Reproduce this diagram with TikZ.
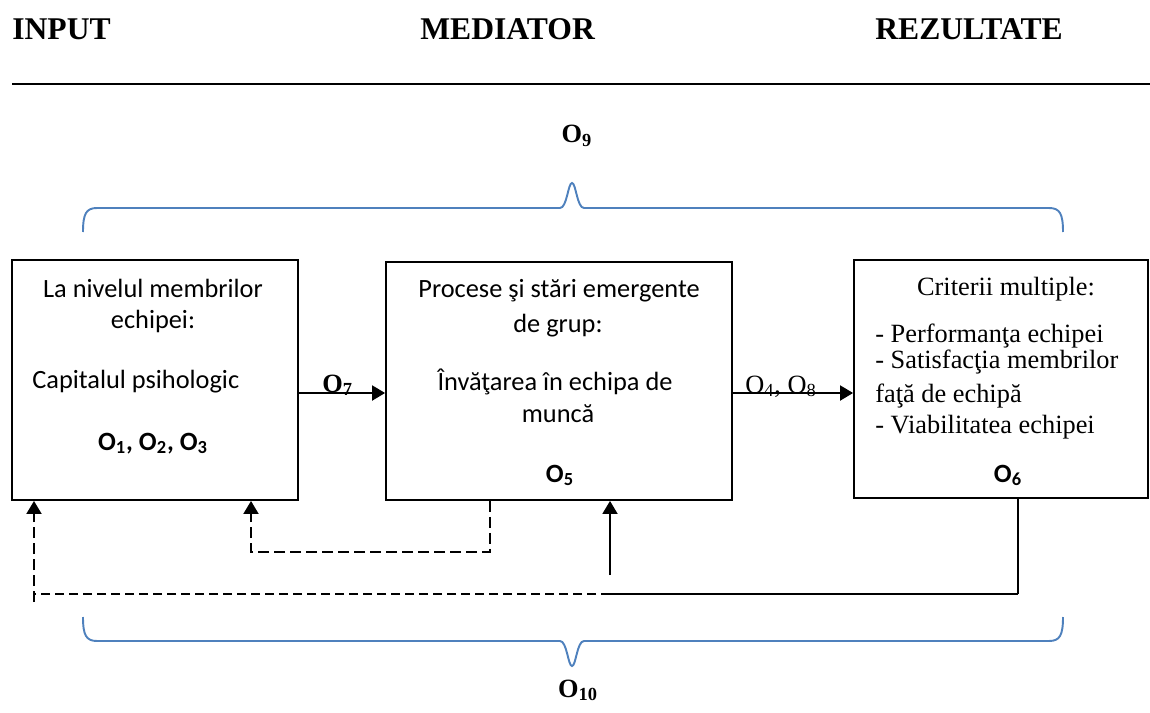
\documentclass[tikz,border=0pt]{standalone}
\usepackage{fontspec}
\setmainfont{Liberation Serif}
\newfontfamily\calibrifont{Carlito}
\usetikzlibrary{arrows.meta,calc}
\definecolor{braceblue}{RGB}{79,129,189}

\begin{document}
\begin{tikzpicture}[
  x=0.02cm, y=-0.02cm,
  box/.style={draw, line width=1.1pt, inner sep=0pt},
  sans/.style={font=\calibrifont\fontsize{15}{18}\selectfont, inner sep=0pt, anchor=base},
  serif/.style={font=\fontsize{15}{18}\selectfont, inner sep=0pt, anchor=base},
  head/.style={font=\fontsize{18}{22}\selectfont\bfseries, inner sep=0pt, anchor=base west},
  arrow/.style={-{Triangle[length=2.6mm, width=3mm]}, line width=1.1pt},
  dashline/.style={line width=1.1pt, dash pattern=on 1.8mm off 1mm},
  feedback/.style={arrow, dash pattern=on 2.2mm off 1mm},
  brace/.style={draw=braceblue, line width=1.1pt}
]
\useasboundingbox (0,0) rectangle (1150,713);

\node[head] (input) at (12,40) {INPUT};
\node[head] (mediator) at (420,40) {MEDIATOR};
\node[head] (results) at (875,40) {REZULTATE};
\draw[line width=1.5pt] (12,84) -- (1150,84);

\node[box, minimum width=5.72cm, minimum height=4.8cm] (members) at (155,380) {};
\node[box, minimum width=6.92cm, minimum height=4.76cm] (process) at (559,381) {};
\node[box, minimum width=5.88cm, minimum height=4.76cm] (criteria) at (1001,379) {};

\node[sans] (m1) at (153,297) {La nivelul membrilor};
\node[sans] (m2) at (153,328) {echipei:};
\node[sans, anchor=base west] (m3) at (32,388) {Capitalul psihologic};
\node[sans] (m4) at (153,450) {\textbf{O\textsubscript{1}, O\textsubscript{2}, O\textsubscript{3}}};

\node[sans] (p1) at (559,297) {Procese şi stări emergente};
\node[sans] (p2) at (558,332) {de grup:};
\node[sans] (p3) at (555,390) {Învăţarea în echipa de};
\node[sans] (p4) at (558,422) {muncă};
\node[sans] (p5) at (560,482) {\textbf{O\textsubscript{5}}};

\node[serif] (c1) at (1006,295) {Criterii multiple:};
\node[serif, anchor=base west] (c2) at (875,342) {- Performanţa echipei};
\node[serif, anchor=base west] (c3) at (875,368) {- Satisfacţia membrilor};
\node[serif, anchor=base west] (c4) at (875,402) {faţă de echipă};
\node[serif, anchor=base west] (c5) at (875,433) {- Viabilitatea echipei};
\node[sans] (c6) at (1008,482) {\textbf{O\textsubscript{6}}};

\node[serif, anchor=base west] (o7) at (322,392) {\textbf{O\textsubscript{7}}};
\node[serif, anchor=base west] (o48) at (745,393) {O\textsubscript{4}, O\textsubscript{8}};
\node[serif] (o9) at (577,143) {\textbf{O\textsubscript{9}}};
\node[serif] (o10) at (578,697) {\textbf{O\textsubscript{10}}};

\draw[arrow] ($(members.east)+(0,13)$) -- ($(process.west)+(0,12)$);
\draw[arrow] ($(process.east)+(0,12)$) -- ($(criteria.west)+(0,14)$);

\coordinate (fbA) at (490,552);
\coordinate (fbB) at (251,552);
\draw[feedback] (process.south -| fbA) -- (fbA) -- (fbB) -- (members.south -| fbB);

\coordinate (corner) at (1018,594);
\coordinate (split) at (610,594);
\coordinate (rise) at (610,575);
\coordinate (back) at (34,594);
\draw[line width=1.1pt] (criteria.south -| corner) -- (corner);
\draw[line width=1.6pt] (corner) -- (split);
\draw[dashline] (split) -- (back);
\draw[feedback] ($(back)+(0,8)$) -- (members.south -| back);
\draw[arrow] (rise) -- (process.south -| rise);

\draw[brace] (83,232) .. controls (83,214) and (86,208) .. (97,208) -- (560,208)
  .. controls (567,208) and (568,183) .. (572,183) .. controls (576,183) and (577,208) .. (584,208)
  -- (1049,208) .. controls (1060,208) and (1063,214) .. (1063,232);
\draw[brace] (83,617) .. controls (83,635) and (86,641) .. (97,641) -- (560,641)
  .. controls (567,641) and (568,666) .. (572,666) .. controls (576,666) and (577,641) .. (584,641)
  -- (1049,641) .. controls (1060,641) and (1063,635) .. (1063,617);
\end{tikzpicture}
\end{document}
